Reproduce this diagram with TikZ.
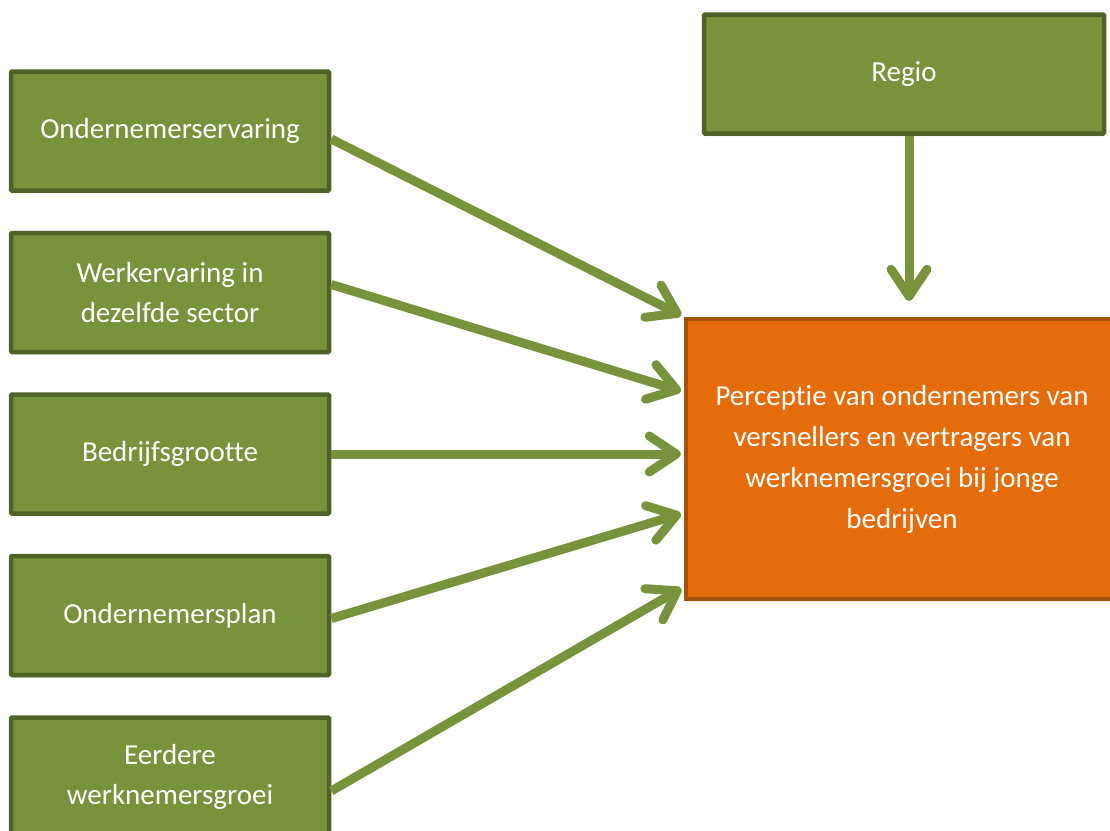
\documentclass[tikz,border=0pt]{standalone}
\usepackage{fontspec}
\setmainfont{Carlito}[RawFeature={-liga;-clig;-dlig}]
\usetikzlibrary{positioning, calc, arrows.meta, shadows}
\definecolor{leafgreen}{RGB}{119,147,60}
\definecolor{darkleaf}{RGB}{79,98,40}
\definecolor{pumpkin}{RGB}{228,108,10}
\definecolor{darkpumpkin}{RGB}{163,82,9}

\begin{document}
\begin{tikzpicture}[
        x=1pt, y=-1pt,
        node distance=38pt,
        factor/.style={rectangle, draw=darkleaf, fill=leafgreen, line width=4.5pt, minimum width=318pt, minimum height=119pt, align=center, text=white, font=\fontsize{29}{40}\selectfont, rounded corners=1pt, drop shadow={opacity=0.12, shadow xshift=2pt, shadow yshift=-3pt}},
        outcome/.style={rectangle, draw=darkpumpkin, fill=pumpkin, line width=4.5pt, minimum width=432pt, minimum height=280pt, align=center, text=white, font=\fontsize{29}{41}\selectfont, drop shadow={opacity=0.12, shadow xshift=2pt, shadow yshift=-3pt}},
        influence/.style={-{Straight Barb[length=27pt, width=36pt, line cap=round, line join=round]}, leafgreen, line width=9pt, shorten >=3pt}
    ]
        \useasboundingbox (0,0) rectangle (1110,830);

        \node[factor] (ERV) at (170,131) {Ondernemerservaring};
        \node[factor, below=of ERV] (SECTOR) {Werkervaring in\\dezelfde sector};
        \node[factor, below=of SECTOR] (GROOTTE) {Bedrijfsgrootte};
        \node[factor, below=of GROOTTE] (PLAN) {Ondernemersplan};
        \node[factor, below=of PLAN] (GROEI) {Eerdere\\werknemersgroei};

        \node[factor, minimum width=400pt] (REGIO) at (904,74) {Regio};
        \node[outcome] (PERCEPTIE) at (902,459) {Perceptie van ondernemers van\\versnellers en vertragers van\\werknemersgroei bij jonge\\bedrijven};

        \draw[influence] ([yshift=-8pt]ERV.east) -- (PERCEPTIE.north west);
        \draw[influence] ([yshift=8pt]SECTOR.east) -- ([yshift=67pt]PERCEPTIE.west);
        \draw[influence] (GROOTTE.east) -- (GROOTTE.east -| PERCEPTIE.west);
        \draw[influence] ([yshift=-3pt]PLAN.east) -- ([yshift=-54pt]PERCEPTIE.west);
        \draw[influence] ([yshift=-14pt]GROEI.east) -- ([yshift=-128pt]PERCEPTIE.west);
        \draw[influence] ([xshift=5pt]REGIO.south) -- ([xshift=7pt, yshift=13pt]PERCEPTIE.north);
    \end{tikzpicture}
\end{document}
